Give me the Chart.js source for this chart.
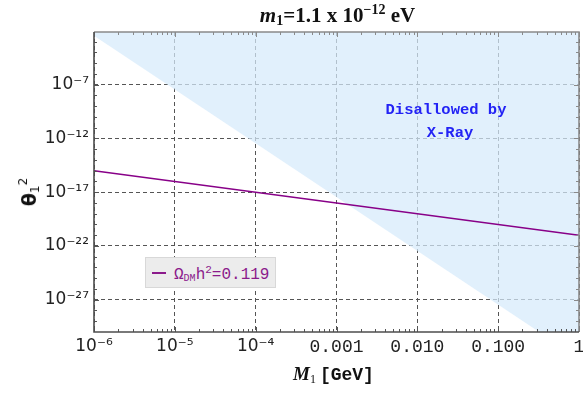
<!DOCTYPE html>
<html><head><meta charset="utf-8">
<script src="https://cdn.jsdelivr.net/npm/chart.js@4"></script>
<style>
html,body{margin:0;padding:0;background:#fff;}
#wrap{position:relative;width:583px;height:395px;overflow:hidden;}
#c{position:absolute;left:0;top:0;}
.t{position:absolute;white-space:nowrap;line-height:1;}
#title{left:0;width:675px;top:3px;text-align:center;font-family:"Liberation Serif",serif;font-weight:bold;font-size:21px;color:#111;}
#title sub{font-size:14px;vertical-align:-3px;}
#title sup{font-size:14px;vertical-align:8px;}
#ytitle{left:29px;top:192px;transform:translate(-50%,-50%) rotate(-90deg);font-family:"DejaVu Sans",sans-serif;font-weight:bold;font-size:19px;color:#111;}
#ytitle sub{font-size:12px;vertical-align:-3px;font-weight:normal;}
#ytitle sup{font-size:12px;vertical-align:9px;font-weight:normal;}
#xtitle{left:293px;top:364px;font-size:16px;color:#111;}
#xtitle .m{font-family:"Liberation Serif",serif;font-style:italic;font-weight:bold;font-size:19px;}
#xtitle sub{font-family:"Liberation Serif",serif;font-size:12px;vertical-align:-3px;}
#xtitle .g{font-family:"Liberation Mono",monospace;font-weight:bold;font-size:18px;}
.ann{font-family:"Liberation Mono",monospace;font-weight:bold;font-size:15.5px;color:#2323f5;transform:translate(-50%,-50%);}
#legend{left:145px;top:257px;width:129px;height:29px;background:#ececec;border:1px solid #d8d8d8;font-family:"Liberation Mono",monospace;font-size:16px;color:#8b1a8b;}
#legend span.txt{position:absolute;left:28px;top:7px;}
#legend span.ln{position:absolute;left:6px;top:14px;width:14px;height:0;border-top:2px solid #8b1a8b;}
#legend sub{font-size:10px;vertical-align:-2px;}
#legend sup{font-size:11px;vertical-align:6px;}
</style></head><body>
<div id="wrap">
<canvas id="c" width="583" height="395"></canvas>
<div class="t" id="title"><i>m</i><sub>1</sub>=1.1 x 10<sup>−12</sup> eV</div>
<div class="t" id="ytitle">θ<sub>1</sub><sup>2</sup></div>
<div class="t" id="xtitle"><span class="m">M</span><sub>1</sub> <span class="g">[GeV]</span></div>
<div class="t ann" style="left:446px;top:111px;">Disallowed by</div>
<div class="t ann" style="left:450px;top:134px;">X-Ray</div>
<div class="t" id="legend"><span class="ln"></span><span class="txt">Ω<sub>DM</sub>h<sup>2</sup>=0.119</span></div>
</div>
<script>
// ---- data ----
const relicMass = [1e-6, 1];            // M1 [GeV]
const relicTheta2 = [1e-15, 1e-21];     // Omega_DM h^2 = 0.119 curve
const xrayMass = [1e-6, 1];
const xrayTheta2 = [3.5e-3, 3.5e-33];   // X-ray exclusion boundary
const xTickValues = [1e-6, 1e-5, 1e-4, 1e-3, 1e-2, 1e-1, 1];
const xTickLabels = ['10⁻⁶', '10⁻⁵', '10⁻⁴', '0.001', '0.010', '0.100', '1'];
const yTickValues = [1e-27, 1e-22, 1e-17, 1e-12, 1e-7];
const yTickLabels = ['10⁻²⁷', '10⁻²²', '10⁻¹⁷', '10⁻¹²', '10⁻⁷'];
const xMin = 1e-6, xMax = 1, yMin = 1e-30, yMax = 0.008;

const frame = {
  id: 'frame',
  afterDatasetsDraw(chart) {
    const {ctx, chartArea: a, scales: {x, y}} = chart;
    ctx.save();
    ctx.lineWidth = 1;
    for (let e = -6; e <= 0; e++) {
      for (let m = 1; m <= 9; m++) {
        const v = m * Math.pow(10, e);
        if (v > xMax * 1.0001) break;
        const px = Math.round(x.getPixelForValue(v)) + 0.5;
        const len = m === 1 ? 5 : 3;
        ctx.strokeStyle = '#555';
        ctx.beginPath(); ctx.moveTo(px, a.bottom); ctx.lineTo(px, a.bottom - len); ctx.stroke();
        ctx.strokeStyle = '#8a8a8a';
        ctx.beginPath(); ctx.moveTo(px, a.top); ctx.lineTo(px, a.top + len); ctx.stroke();
      }
    }
    for (let e = -29; e <= -3; e++) {
      const v = Math.pow(10, e);
      const py = Math.round(y.getPixelForValue(v)) + 0.5;
      const major = (e + 27) % 5 === 0;
      const len = major ? 5 : 3;
      ctx.strokeStyle = '#555';
      ctx.beginPath(); ctx.moveTo(a.left, py); ctx.lineTo(a.left + len, py); ctx.stroke();
      ctx.strokeStyle = '#8a8a8a';
      ctx.beginPath(); ctx.moveTo(a.right, py); ctx.lineTo(a.right - len, py); ctx.stroke();
    }
    ctx.lineWidth = 1.6;
    ctx.strokeStyle = '#8a8a8a';
    ctx.beginPath(); ctx.moveTo(a.left, a.top); ctx.lineTo(a.right, a.top); ctx.lineTo(a.right, a.bottom); ctx.stroke();
    ctx.strokeStyle = '#4d4d4d';
    ctx.beginPath(); ctx.moveTo(a.left, a.top); ctx.lineTo(a.left, a.bottom); ctx.lineTo(a.right, a.bottom); ctx.stroke();
    ctx.restore();
  }
};

new Chart(document.getElementById('c'), {
  type: 'line',
  data: {
    datasets: [
      {
        label: 'X-Ray',
        data: xrayMass.map((m, i) => ({x: m, y: xrayTheta2[i]})),
        borderWidth: 0,
        borderColor: 'rgba(0,0,0,0)',
        backgroundColor: 'rgba(214,234,251,0.72)',
        fill: 'end',
        pointRadius: 0,
        order: 2
      },
      {
        label: 'relic',
        data: relicMass.map((m, i) => ({x: m, y: relicTheta2[i]})),
        borderColor: '#880088',
        borderWidth: 1.6,
        fill: false,
        pointRadius: 0,
        order: 1
      }
    ]
  },
  options: {
    responsive: false,
    animation: false,
    devicePixelRatio: 1,
    layout: {padding: {top: 32, right: 4, left: 0, bottom: 0}},
    plugins: {legend: {display: false}, tooltip: {enabled: false}},
    scales: {
      x: {
        type: 'logarithmic', min: xMin, max: xMax,
        afterBuildTicks: s => { s.ticks = xTickValues.map(v => ({value: v})); },
        afterFit: s => { s.height = 63; s.paddingRight = 0; s.paddingLeft = 0; },
        ticks: {
          autoSkip: false, maxRotation: 0, padding: 4, color: '#222',
          callback: (v, i) => xTickLabels[i],
          font: c => (c.index < 3 ? {family: 'DejaVu Sans', size: 17} : {family: 'Liberation Mono', size: 18})
        },
        grid: {color: '#555', lineWidth: 1, drawTicks: false},
        border: {display: false, dash: [4, 3]}
      },
      y: {
        type: 'logarithmic', min: yMin, max: yMax,
        afterBuildTicks: s => { s.ticks = yTickValues.map(v => ({value: v})); },
        afterFit: s => { s.width = 94; s.paddingTop = 0; s.paddingBottom = 0; },
        ticks: {
          autoSkip: false, padding: 5, color: '#222',
          callback: (v, i) => yTickLabels[i],
          font: {family: 'DejaVu Sans', size: 17}
        },
        grid: {color: '#555', lineWidth: 1, drawTicks: false},
        border: {display: false, dash: [4, 3]}
      }
    }
  },
  plugins: [frame]
});
</script>
</body></html>
